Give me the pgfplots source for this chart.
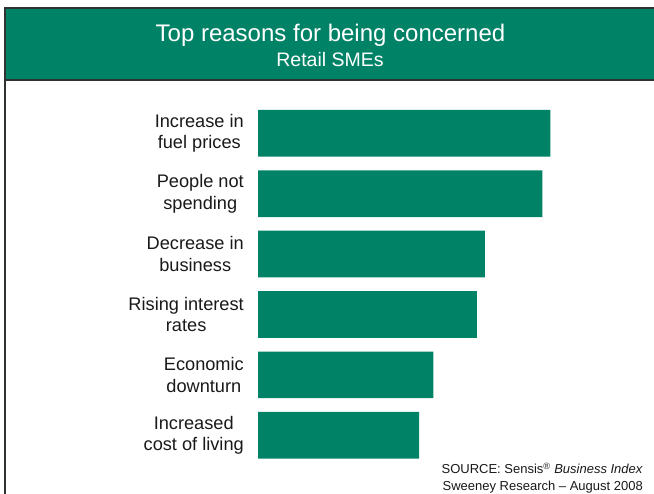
\documentclass[border=0pt]{standalone}
\usepackage{pgfplots}
\pgfplotsset{compat=1.18}
\usepackage{fontspec}
\setmainfont{Liberation Sans}
\definecolor{sgreen}{RGB}{0,130,102}
\definecolor{sframe}{RGB}{45,50,50}
\definecolor{stext}{RGB}{25,25,25}
\begin{document}
\begin{tikzpicture}[x=1bp,y=1bp]
\useasboundingbox (0,0) rectangle (654,494);
% banner
\fill[sgreen] (5,414) rectangle (654,486);
\draw[sframe,line width=2bp] (654,486) -- (5,486) -- (5,0);
\draw[sframe,line width=2bp] (5,414) -- (654,414);
\node[anchor=base,text=white,font=\fontsize{24bp}{28bp}\selectfont,inner sep=0pt] at (330.5,452) {Top reasons for being concerned};
\node[anchor=base,text=white,font=\fontsize{19.5bp}{23bp}\selectfont,inner sep=0pt] at (330,427) {Retail SMEs};
\begin{axis}[
  at={(258bp,390.9bp)}, anchor=north west,
  scale only axis, width=300bp, height=362.4bp,
  xmin=0, xmax=37.97, ymin=-0.5, ymax=5.5, y dir=reverse,
  xbar, bar width=46.7bp, bar shift=0pt,
  axis line style={draw=none}, major tick length=0pt,
  xtick=\empty, ytick={0,1,2,3,4,5},
  yticklabels={{Increase in\\fuel prices},{People not\\spending},{Decrease in\\business},{Rising interest\\rates},{Economic\\downturn},{Increased\\cost of living}},
  yticklabel style={align=center, text=stext, inner sep=0pt, xshift=-14bp, font=\fontsize{18.2bp}{21.5bp}\selectfont},
]
\addplot[fill=sgreen, draw=none] coordinates {(37,0) (36,1) (28.7,2) (27.7,3) (22.2,4) (20.4,5)};
\end{axis}
\node[anchor=base east,text=stext,font=\fontsize{13bp}{15bp}\selectfont,inner sep=0pt] at (643,20) {SOURCE: Sensis\textsuperscript{®} \textit{Business Index}};
\node[anchor=base east,text=stext,font=\fontsize{13bp}{15bp}\selectfont,inner sep=0pt] at (643,3) {Sweeney Research – August 2008};
\end{tikzpicture}
\end{document}
